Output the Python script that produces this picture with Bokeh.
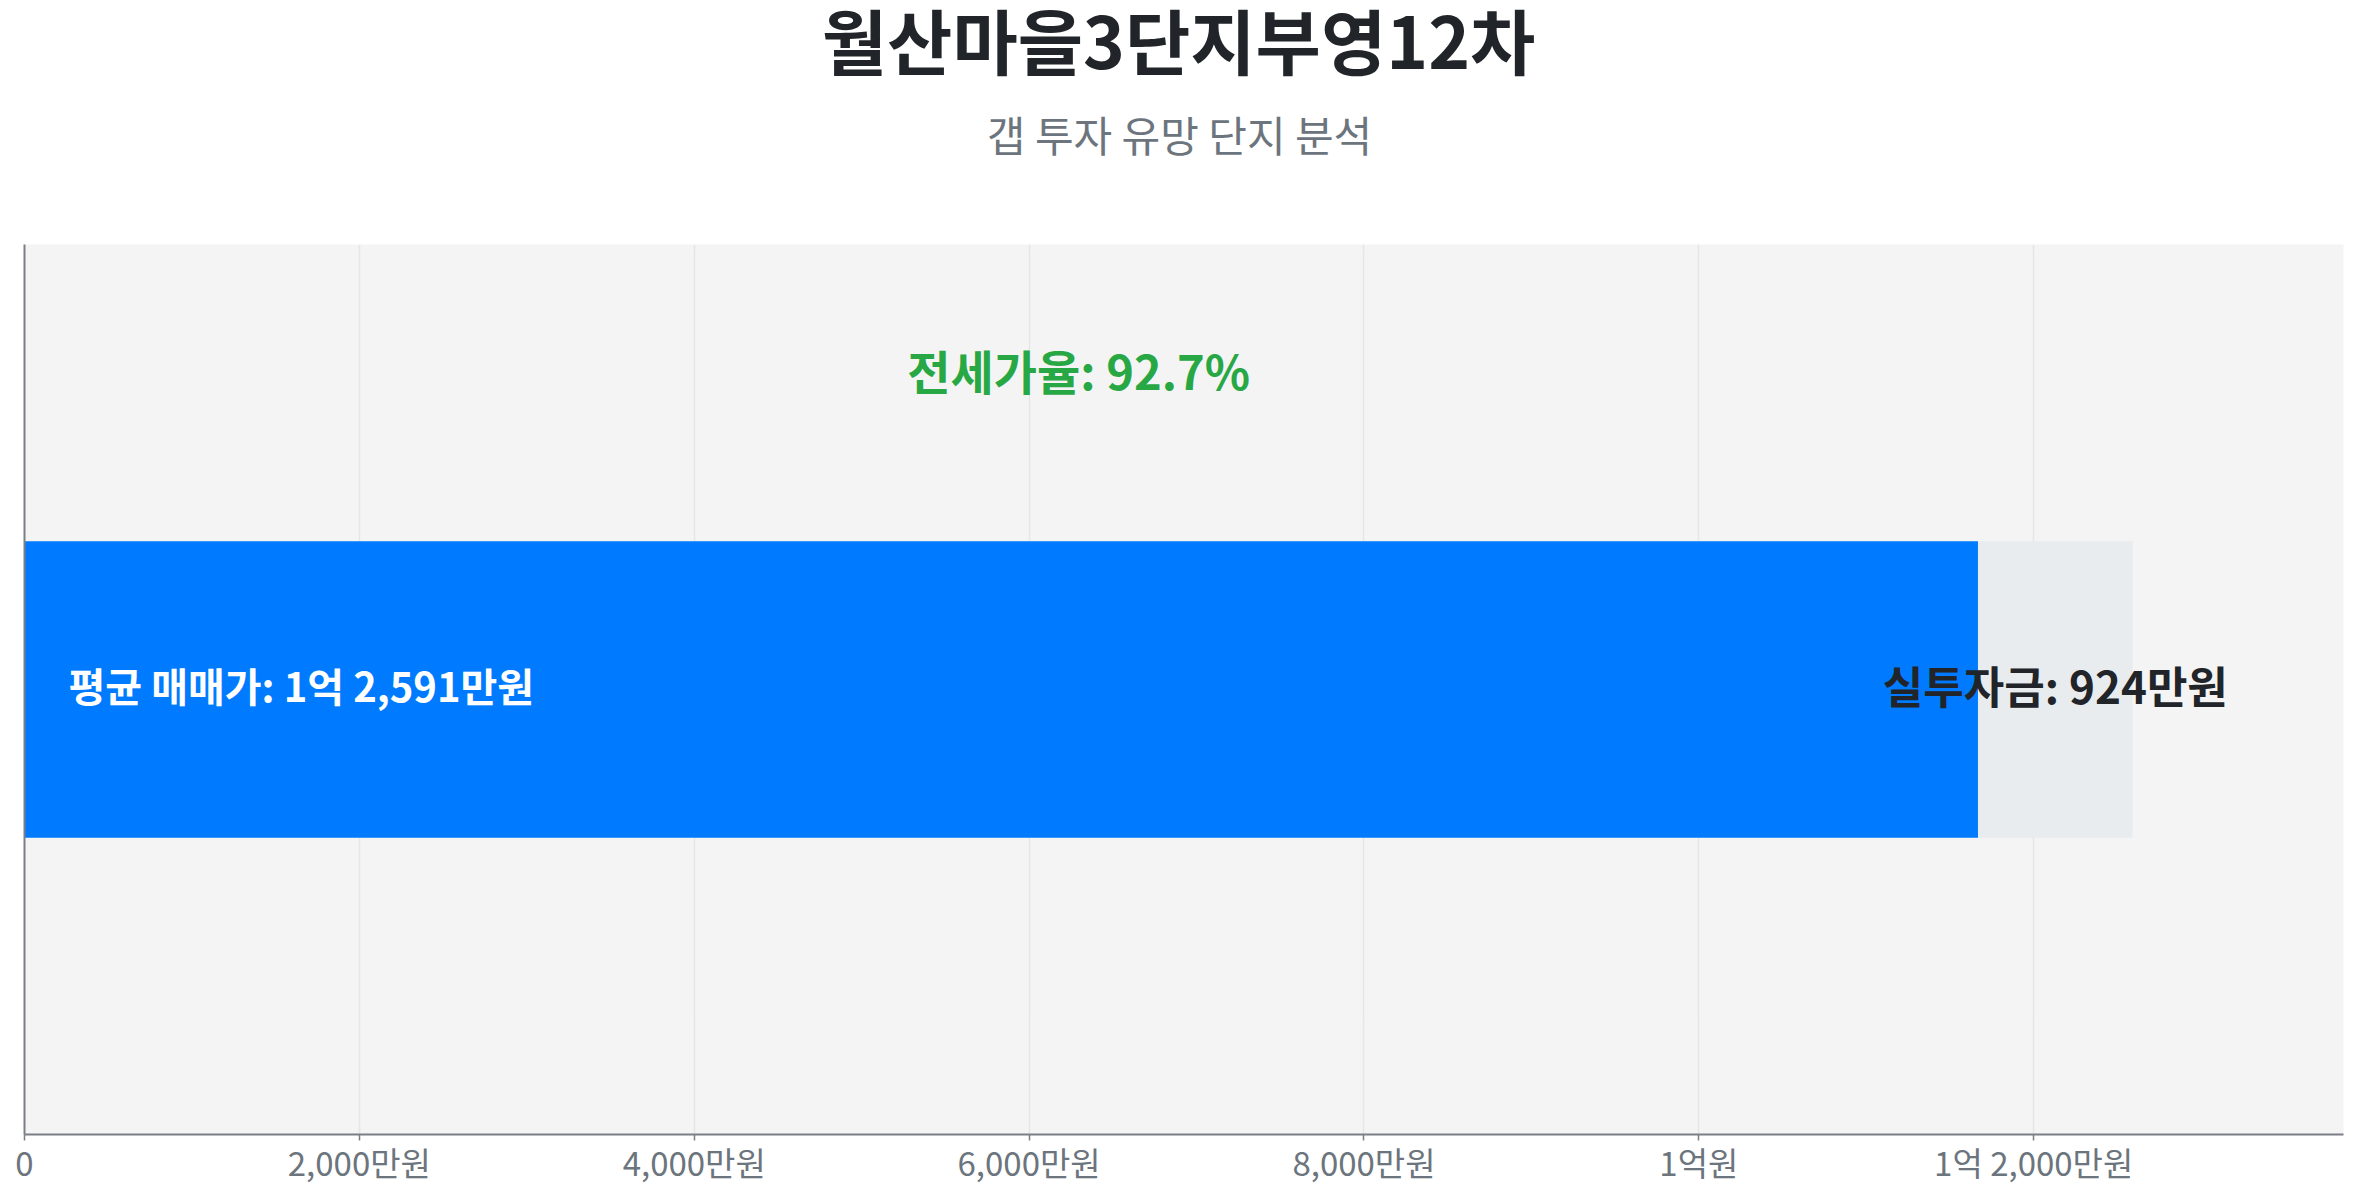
from bokeh.plotting import figure
from bokeh.models import Range1d, FixedTicker, Label
from bokeh.layouts import column
from bokeh.core.properties import value
from bokeh.embed import file_html
from bokeh.resources import INLINE

# ---- data ----
title_text = ["월산마을3단지부영12차"]
subtitle_text = ["갭 투자 유망 단지 분석"]
categories = ["월산마을3단지부영12차"]
avg_price = [12591]      # 평균 매매가 (만원)
jeonse_price = [11667]   # 전세가 (만원)
invest_amount = [924]    # 실투자금 (만원)
jeonse_ratio = [92.7]    # %
tick_values = [0, 2000, 4000, 6000, 8000, 10000, 12000]
tick_labels = ["0", "2,000만원", "4,000만원", "6,000만원", "8,000만원", "1억원", "1억 2,000만원"]

FONT = "Noto Sans CJK KR"
W = 2349

# ---- header figure (title + subtitle), pixel-space ranges ----
HEAD_H = 244
head = figure(width=W, height=HEAD_H, output_backend="svg", toolbar_location=None,
              x_range=Range1d(0, W), y_range=Range1d(0, HEAD_H),
              x_axis_location=None, y_axis_location=None, min_border=0)
head.title_location = None
head.grid.visible = False
head.outline_line_color = None
head.background_fill_color = "white"
head.border_fill_color = "white"
head.text(x=[1169], y=[HEAD_H - 37], text=title_text, text_font=value(FONT),
          text_font_style="bold", text_font_size="71px", text_color="#212529",
          text_align="center", text_baseline="middle")
head.text(x=[1170], y=[HEAD_H - 133], text=subtitle_text, text_font=value(FONT),
          text_font_style="normal", text_font_size="42px", text_color="#6c757d",
          text_align="center", text_baseline="middle")

# ---- main chart ----
p = figure(width=W, height=944, output_backend="svg", toolbar_location=None,
           x_range=Range1d(0, avg_price[0] * 1.1), y_range=Range1d(-1.5, 1.5),
           min_border_left=24, min_border_right=6, min_border_top=0, min_border_bottom=40)
p.title_location = None
p.background_fill_color = "#f4f4f4"
p.border_fill_color = "white"
p.outline_line_color = None

# bars
p.hbar(y=[0], left=[0], right=avg_price, height=1.0, fill_color="#e9ecef", line_color=None)
p.hbar(y=[0], left=[0], right=jeonse_price, height=1.0, fill_color="#007bff", line_color=None)

# grid
p.ygrid.visible = False
p.xgrid.grid_line_color = "#e6e6e6"
p.xgrid.grid_line_width = 1.5

# x axis
xa = p.xaxis[0]
xa.ticker = FixedTicker(ticks=tick_values)
xa.major_label_overrides = {v: l for v, l in zip(tick_values, tick_labels)}
xa.major_label_text_font = FONT
xa.major_label_text_font_size = "33px"
xa.major_label_text_color = "#6c757d"
xa.axis_line_color = "#7a7f85"
xa.axis_line_width = 2
xa.major_tick_line_color = "#7a7f85"
xa.major_tick_line_width = 1.5
xa.major_tick_out = 6
xa.major_tick_in = 0
xa.minor_tick_line_color = None
xa.major_label_standoff = -3

# y axis (line only)
ya = p.yaxis[0]
ya.major_label_text_font_size = "0px"
ya.major_tick_line_color = None
ya.minor_tick_line_color = None
ya.axis_line_color = "#7a7f85"
ya.axis_line_width = 2
ya.ticker = FixedTicker(ticks=[])

# labels
p.add_layout(Label(x=0, y=0, x_offset=44, y_offset=5, text=f"평균 매매가: 1억 {avg_price[0]-10000:,}만원",
                   text_font=FONT, text_font_style="bold", text_font_size="40px",
                   text_color="white", text_align="left", text_baseline="middle"))
p.add_layout(Label(x=(jeonse_price[0] + avg_price[0]) / 2, y=0, y_offset=5, text=f"실투자금: {invest_amount[0]}만원",
                   text_font=FONT, text_font_style="bold", text_font_size="44px",
                   text_color="#212529", text_align="center", text_baseline="middle"))
p.add_layout(Label(x=avg_price[0] / 2, y=1.06, y_offset=6, text=f"전세가율: {jeonse_ratio[0]}%",
                   text_font=FONT, text_font_style="bold", text_font_size="47px",
                   text_color="#28a745", text_align="center", text_baseline="middle"))

layout = column(head, p, spacing=0)
open("out.html", "w").write(file_html(layout, INLINE))
